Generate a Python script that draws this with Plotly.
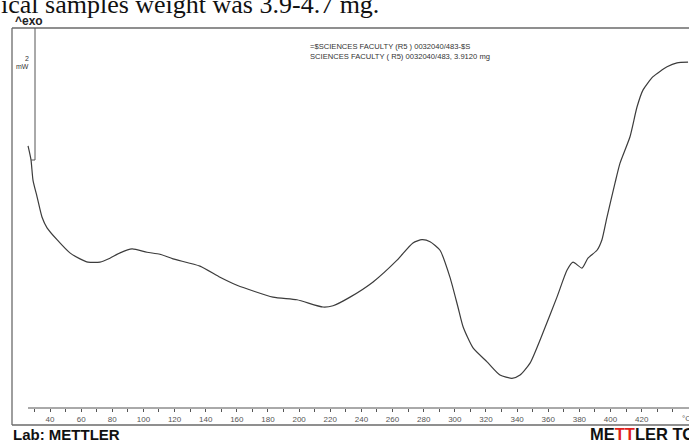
import plotly.graph_objects as go

# DSC curve (temperature °C, heat flow mW, exo up)
temperature = [25.9, 27.8, 29.1, 31.7, 34.9, 38.1, 44.5, 52.8, 59.3, 64.4, 72.1, 78.5,
               85.0, 92.7, 102.3, 110.6, 119.0, 136.3, 149.2, 160.1, 183.2, 198.6,
               215.3, 221.8, 232.7, 247.5, 262.9, 273.1, 278.9, 284.1, 290.5, 296.9,
               302.0, 305.3, 311.7, 320.7, 329.0, 336.7, 341.9, 348.3, 356.6, 365.6,
               372.1, 375.9, 381.7, 385.5, 391.3, 394.5, 397.7, 402.9, 406.1, 412.5,
               417.0, 420.9, 427.3, 436.3, 442.7, 449.8]
heat_flow = [3.97, 3.76, 3.45, 3.20, 2.89, 2.73, 2.55, 2.35, 2.26, 2.21, 2.21, 2.27,
             2.35, 2.41, 2.36, 2.33, 2.26, 2.15, 1.98, 1.86, 1.68, 1.64,
             1.53, 1.55, 1.68, 1.91, 2.24, 2.50, 2.55, 2.52, 2.39, 1.98,
             1.53, 1.23, 0.91, 0.70, 0.50, 0.45, 0.50, 0.68, 1.14, 1.68,
             2.09, 2.21, 2.12, 2.27, 2.39, 2.55, 2.89, 3.41, 3.71, 4.11,
             4.56, 4.82, 5.02, 5.17, 5.23, 5.24]

tick_values = [30, 40, 50, 60, 70, 80, 90, 100, 110, 120, 130, 140, 150, 160, 170, 180,
               190, 200, 210, 220, 230, 240, 250, 260, 270, 280, 290, 300, 310, 320,
               330, 340, 350, 360, 370, 380, 390, 400, 410, 420, 430, 440]
tick_labels = [str(v) if (v % 20 == 0 and 40 <= v <= 420) else "" for v in tick_values]

W, H = 689, 441
PB = 408  # plot-area bottom (px)


def px(x):
    return x / W


def py(y):
    return (PB - y) / PB


fig = go.Figure()
fig.add_trace(go.Scatter(
    x=temperature, y=heat_flow, mode="lines",
    line=dict(color="#3c3c3c", width=1.2, shape="spline", smoothing=0.6),
    hoverinfo="skip", showlegend=False))

frame = dict(color="#6a6a6a", width=1.3)
shapes = [
    dict(type="line", xref="paper", yref="paper", x0=px(12), x1=px(689), y0=py(28), y1=py(28), line=frame),
    dict(type="line", xref="paper", yref="paper", x0=px(12), x1=px(12), y0=py(28), y1=py(425), line=frame),
    dict(type="line", xref="paper", yref="paper", x0=px(12), x1=px(689), y0=py(425), y1=py(425), line=frame),
    dict(type="line", xref="paper", yref="paper", x0=px(28), x1=px(689), y0=py(408), y1=py(408),
         line=dict(color="#555", width=1)),
    dict(type="line", xref="paper", yref="paper", x0=px(35), x1=px(35), y0=py(28), y1=py(160),
         line=dict(color="#555", width=1)),
    dict(type="line", xref="paper", yref="paper", x0=px(31), x1=px(35), y0=py(160), y1=py(160),
         line=dict(color="#555", width=1)),
]

ann = []
ann.append(dict(text="ical samples weight was 3.9-4.7 mg.", xref="paper", yref="paper",
                x=px(-1), y=py(21), xanchor="left", yanchor="bottom", showarrow=False,
                font=dict(family="Liberation Serif", size=26, color="#111")))
ann.append(dict(text="<b>^exo</b>", xref="paper", yref="paper", x=px(13), y=py(21),
                xanchor="left", yanchor="middle", showarrow=False,
                font=dict(family="Liberation Sans", size=12, color="#222")))
ann.append(dict(text="2", xref="paper", yref="paper", x=px(31), y=py(58),
                xanchor="right", yanchor="middle", showarrow=False,
                font=dict(family="Liberation Sans", size=7, color="#333")))
ann.append(dict(text="mW", xref="paper", yref="paper", x=px(31), y=py(67),
                xanchor="right", yanchor="middle", showarrow=False,
                font=dict(family="Liberation Sans", size=7, color="#333")))
ann.append(dict(text="=$SCIENCES FACULTY (R5 ) 0032040/483-$S<br>SCIENCES FACULTY ( R5) 0032040/483, 3.9120 mg",
                xref="paper", yref="paper", x=px(308), y=py(51), xanchor="left", yanchor="middle",
                align="left", showarrow=False,
                font=dict(family="Liberation Sans", size=7.6, color="#333")))
ann.append(dict(text="°C", xref="paper", yref="paper", x=px(686), y=py(419),
                xanchor="center", yanchor="middle", showarrow=False,
                font=dict(family="Liberation Sans", size=8, color="#555")))
ann.append(dict(text="<b>Lab: METTLER</b>", xref="paper", yref="paper", x=px(11), y=py(434),
                xanchor="left", yanchor="middle", showarrow=False,
                font=dict(family="Liberation Sans", size=15, color="#111")))
ann.append(dict(text="<b>ME<span style='color:#e0201a'>TT</span>LER TOLEDO</b>", xref="paper", yref="paper",
                x=px(588), y=py(434), xanchor="left", yanchor="middle", showarrow=False,
                font=dict(family="Liberation Sans", size=16.5, color="#111")))

fig.update_layout(
    width=W, height=H,
    margin=dict(l=0, r=0, t=0, b=H - PB),
    paper_bgcolor="white", plot_bgcolor="white",
    shapes=shapes, annotations=ann, showlegend=False,
    xaxis=dict(range=[7.89, 450.4], showgrid=False, zeroline=False, showline=False,
               tickmode="array", tickvals=tick_values, ticktext=tick_labels,
               ticks="outside", ticklen=3, tickcolor="#555", tickwidth=1,
               tickfont=dict(family="Liberation Sans", size=8, color="#555")),
    yaxis=dict(range=[0, PB / 66], visible=False),
)

fig.write_html("out.html")
